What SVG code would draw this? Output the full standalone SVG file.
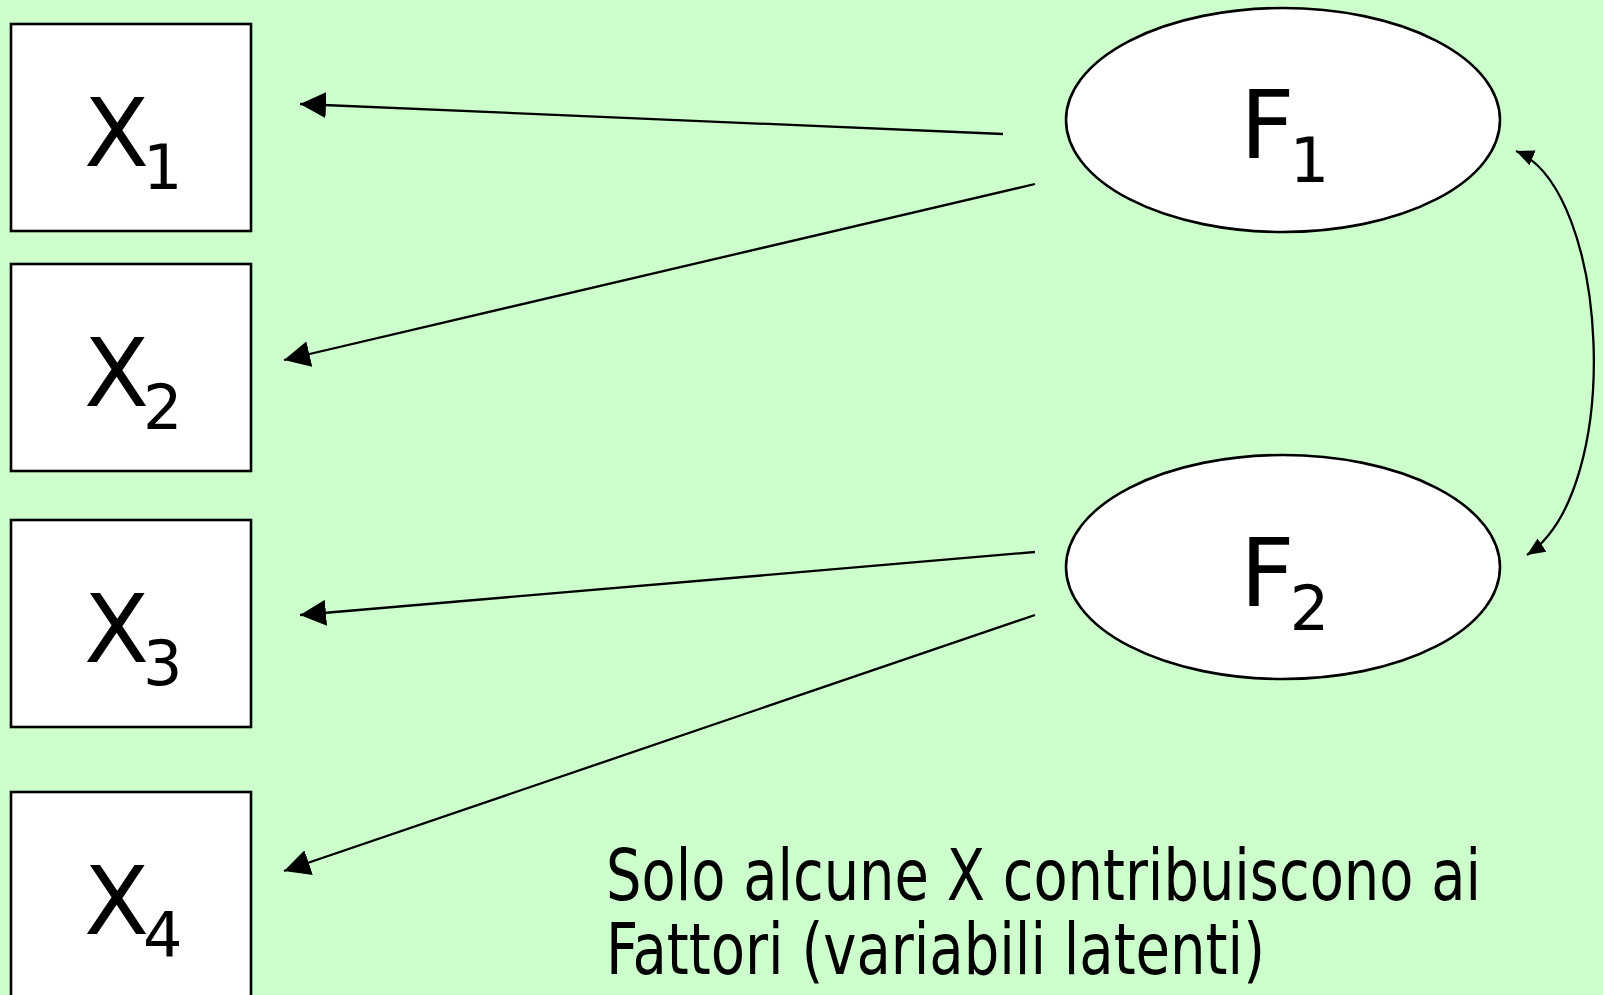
<svg xmlns="http://www.w3.org/2000/svg" width="1603" height="995" viewBox="0 0 1603 995">
<style>
.box{fill:#ffffff;stroke:#000;stroke-width:2.6}
.lbl{font-family:"DejaVu Sans","Liberation Sans",sans-serif;fill:#000}
.big{font-size:95px}
.sub{font-size:62px}
.edge{fill:none;stroke:#000;stroke-width:2.3}
.note{font-family:"DejaVu Sans Condensed","DejaVu Sans",sans-serif;font-size:72px;fill:#000}
</style>
<defs>
<marker id="ah" viewBox="0 0 26 26" refX="26" refY="13" markerWidth="26" markerHeight="26" markerUnits="userSpaceOnUse" orient="auto">
<path d="M0,0 L26,13 L0,26 Z" fill="#000"/>
</marker>
<marker id="ahs" viewBox="0 0 18 16" refX="18" refY="8" markerWidth="18" markerHeight="16" markerUnits="userSpaceOnUse" orient="auto-start-reverse">
<path d="M0,0 L18,8 L0,16 Z" fill="#000"/>
</marker>
</defs>
<rect width="1603" height="995" fill="#ccffcc"/>
<g id="X1"><rect class="box" x="11" y="24" width="240" height="207"/><text class="lbl" x="84" y="166"><tspan class="big">X</tspan><tspan class="sub" dx="-6" dy="23">1</tspan></text></g>
<g id="X2"><rect class="box" x="11" y="264" width="240" height="207"/><text class="lbl" x="84" y="406"><tspan class="big">X</tspan><tspan class="sub" dx="-6" dy="23">2</tspan></text></g>
<g id="X3"><rect class="box" x="11" y="520" width="240" height="207"/><text class="lbl" x="84" y="662"><tspan class="big">X</tspan><tspan class="sub" dx="-6" dy="23">3</tspan></text></g>
<g id="X4"><rect class="box" x="11" y="792" width="240" height="220"/><text class="lbl" x="84" y="934"><tspan class="big">X</tspan><tspan class="sub" dx="-6" dy="23">4</tspan></text></g>
<g id="F1"><ellipse class="box" cx="1283" cy="120" rx="217" ry="112"/><text class="lbl" x="1240" y="158"><tspan class="big">F</tspan><tspan class="sub" dx="-5" dy="24">1</tspan></text></g>
<g id="F2"><ellipse class="box" cx="1283" cy="567" rx="217" ry="112"/><text class="lbl" x="1240" y="606"><tspan class="big">F</tspan><tspan class="sub" dx="-5" dy="24">2</tspan></text></g>
<g id="connectors">
<line class="edge" x1="1003" y1="134" x2="300" y2="104" marker-end="url(#ah)"/>
<line class="edge" x1="1035" y1="184" x2="284" y2="360" marker-end="url(#ah)"/>
<line class="edge" x1="1035" y1="552" x2="300" y2="615" marker-end="url(#ah)"/>
<line class="edge" x1="1035" y1="615" x2="284" y2="871" marker-end="url(#ah)"/>
<path class="edge" d="M1516,151 C1610,190 1625,490 1527,555" marker-start="url(#ahs)" marker-end="url(#ahs)"/>
</g>
<g id="note">
<text class="note" x="606" y="900" textLength="875" lengthAdjust="spacingAndGlyphs">Solo alcune X contribuiscono ai</text>
<text class="note" x="606" y="974" textLength="659" lengthAdjust="spacingAndGlyphs">Fattori (variabili latenti)</text>
</g>
</svg>
